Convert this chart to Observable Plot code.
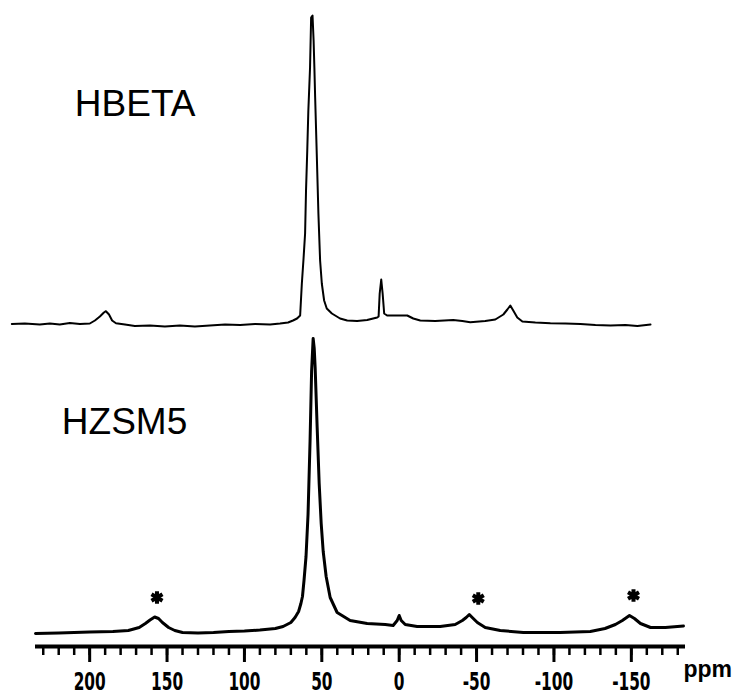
<!DOCTYPE html>
<html>
<head>
<meta charset="utf-8">
<style>
  html, body { margin: 0; padding: 0; background: #fff; }
</style>
<script src="https://cdn.jsdelivr.net/npm/d3@7"></script>
<script src="https://cdn.jsdelivr.net/npm/@observablehq/plot@0.6"></script>
</head>
<body>
<div id="chart"></div>
<script>
// Solid-state NMR spectra (chemical shift in ppm, intensity in arbitrary units)

// HZSM5 trace
const hzsmPpm = [235,220,200,185,175,168,164,161,158,155.5,153,149,145,140,130,120,110,100,90,80,75,70,67.3,65,63.5,62.5,61.5,60.2,58.9,57.6,56.6,55.6,54.9,54.3,53.0,51.7,50.4,49.1,47.2,44.6,40.1,31.7,20.7,9,3.9,1.3,0,-1.3,-3.9,-11.6,-26.5,-36.2,-40.8,-43.3,-45.3,-47.2,-50.5,-55.6,-65.3,-80.2,-104,-123.5,-133,-139.7,-144.2,-148.8,-152,-155.9,-162.4,-172,-183.7];
const hzsmInt = [0,0.5,1.5,2,3,6,10,13.5,16.5,15,11,6,3,1,0.5,1,2,2.5,3.5,5,7,11,16,22,30,37,53,77,119,192,262,295,285,266,206,150,110,82,57,36,21,13,10,9,8,13,18,13,9,7,7,9,13,16,19,16,11,6,3,1,1,2,5,9,13,18,15,10,6,6,7.5];

// HBETA trace
const hbetaPpm = [250.3,241.9,232.2,225.7,219.3,212.8,206.3,199.9,196.6,193.4,190.8,189.5,187.5,185.5,183,177.2,170.8,161,151.4,141.7,132,122.3,112.5,102.8,93.1,83.4,77,71.8,68.6,66,64,62.9,61.8,60.8,60.2,59.4,58.7,57.6,56.9,56,55.3,54.8,54.3,53.2,52.2,51.1,50,48.5,46.8,43.5,38.2,33.6,27.2,20.7,14.2,13.3,12.6,11.6,10.7,9.7,7.8,2.6,-5.2,-9.1,-13.6,-23.3,-34.9,-40.8,-45.9,-55.6,-62.1,-67.3,-69.9,-71.8,-73.7,-76.3,-79.6,-88,-97.7,-107.4,-117.1,-126.8,-136.5,-146.2,-153.9,-162.4];
const hbetaInt = [-0.5,0,-1,0,-1,0.5,-0.5,0,3,7,11,12.3,9,3,0.3,-1,-2.5,-2,-3,-2,-3,-2,-1,-1.5,-0.5,-1,0,1,3,5,8,40,65,90,133,173,213,256,306,308,283,256,226,166,110,63,40,23,15,10,5,3,2.5,3.5,6,7,30,44,30,10,8,8,8,5,3,2.5,3.5,2.5,1.3,2.5,4,9,14,18,13,6,2,1,0.3,0,-0.5,-1.5,-2,-1.5,-2.5,-1];

// Spinning sidebands of HZSM5, flagged with asterisks
const sidebandPpm = [156.5, -51.1, -151.4];
const sidebandMarkInt = [36, 35, 38];

// Axis ticks
const majorTicks = [200, 150, 100, 50, 0, -50, -100, -150];
const minorTicks = [230,220,210,200,190,180,170,160,150,140,130,120,110,100,90,80,70,60,50,40,30,20,10,0,-10,-20,-30,-40,-50,-60,-70,-80,-90,-100,-110,-120,-130,-140,-150,-160,-170,-180];

const sampleNames = ["HBETA", "HZSM5"];
const unitLabel = "ppm";

// Vertical stacking: HBETA is drawn above HZSM5
const hbetaOffset = 310;
const yMin = -13;

const hzsm = hzsmPpm.map((p, i) => ({ppm: p, y: hzsmInt[i]}));
const hbeta = hbetaPpm.map((p, i) => ({ppm: p, y: hbetaInt[i] + hbetaOffset}));
const marks = sidebandPpm.map((p, i) => ({ppm: p, y: sidebandMarkInt[i]}));
const names = [
  {ppm: 209.6, y: hbetaOffset + 208, name: sampleNames[0]},
  {ppm: 218, y: 200, name: sampleNames[1]}
];

const chart = Plot.plot({
  width: 742,
  height: 695,
  marginLeft: 35,
  marginRight: 57,
  marginTop: 0,
  marginBottom: 49,
  style: {background: "#fff", fontFamily: "Liberation Sans, Arial, sans-serif", color: "#000"},
  x: {domain: [235, -185], label: null},
  y: {domain: [yMin, 633], axis: null},
  marks: [
    // minor ticks every 10 ppm
    Plot.axisX({ticks: minorTicks, tickSize: 9, text: null, label: null, strokeWidth: 2.5}),
    // major ticks with labels
    Plot.axisX({
      ticks: majorTicks, tickSize: 16, tickPadding: 10, strokeWidth: 3,
      tickFormat: d => String(d), label: null,
      fontSize: 24, fontWeight: "bold", fontFamily: "DejaVu Sans"
    }),
    // axis baseline
    Plot.ruleY([yMin], {stroke: "#000", strokeWidth: 4}),
    Plot.line(hbeta, {x: "ppm", y: "y", stroke: "#000", strokeWidth: 2, strokeLinejoin: "round"}),
    Plot.line(hzsm, {x: "ppm", y: "y", stroke: "#000", strokeWidth: 3, strokeLinejoin: "round"}),
    Plot.dot(marks, {x: "ppm", y: "y", symbol: "asterisk", r: 6, stroke: "#000", strokeWidth: 4}),
    Plot.text(names, {x: "ppm", y: "y", text: "name", textAnchor: "start", lineAnchor: "bottom",
      fontSize: 37, fill: "#000", fontFamily: "Liberation Sans"}),
    Plot.text([unitLabel], {x: -183.7, y: -43, text: d => d, textAnchor: "start", lineAnchor: "bottom",
      fontSize: 23, fontWeight: "bold", fill: "#000", fontFamily: "Liberation Sans"})
  ]
});

// Narrow, heavy tick numerals
d3.select(chart).selectAll('g[aria-label="x-axis tick label"]')
  .attr("font-family", "DejaVu Sans")
  .attr("font-weight", "bold")
  .attr("font-size", 24)
  .attr("fill", "#000")
  .selectAll("text").each(function() {
    const t = this.getAttribute("transform") || "";
    this.setAttribute("transform", `${t} scale(0.64,1)`);
  });

document.getElementById("chart").append(chart);
</script>
</body>
</html>
